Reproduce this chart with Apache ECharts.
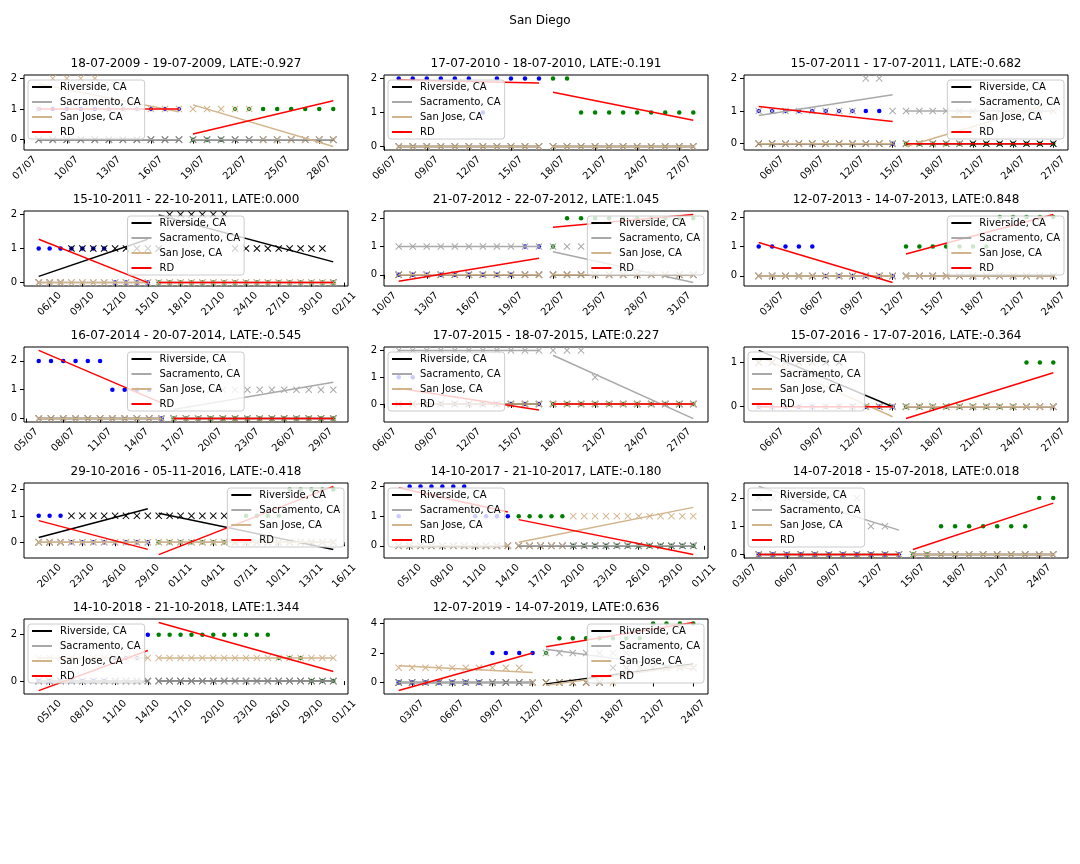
<!DOCTYPE html>
<html><head><meta charset="utf-8">
<script src="https://cdn.jsdelivr.net/npm/echarts@6/dist/echarts.min.js"></script>
<style>html,body{margin:0;padding:0;background:#fff}#c{width:1080px;height:864px}</style>
</head><body><div id="c"></div>
<script>
// ---------------- DATA ----------------
const suptitle = 'San Diego';
const cities = ['Riverside, CA', 'Sacramento, CA', 'San Jose, CA'];
const titles = [
  '18-07-2009 - 19-07-2009, LATE:-0.927',
  '17-07-2010 - 18-07-2010, LATE:-0.191',
  '15-07-2011 - 17-07-2011, LATE:-0.682',
  '15-10-2011 - 22-10-2011, LATE:0.000',
  '21-07-2012 - 22-07-2012, LATE:1.045',
  '12-07-2013 - 14-07-2013, LATE:0.848',
  '16-07-2014 - 20-07-2014, LATE:-0.545',
  '17-07-2015 - 18-07-2015, LATE:0.227',
  '15-07-2016 - 17-07-2016, LATE:-0.364',
  '29-10-2016 - 05-11-2016, LATE:-0.418',
  '14-10-2017 - 21-10-2017, LATE:-0.180',
  '14-07-2018 - 15-07-2018, LATE:0.018',
  '14-10-2018 - 21-10-2018, LATE:1.344',
  '12-07-2019 - 14-07-2019, LATE:0.636'
];
// first day shown in each panel
const startDates = ['2009-07-08','2010-07-07','2011-07-05','2011-10-05','2012-07-11','2013-07-02','2014-07-06',
  '2015-07-07','2016-07-05','2016-10-19','2017-10-04','2018-07-04','2018-10-04','2019-07-02'];
// number of pre-period days (blue) in each panel
const preDays = [11,11,11,11,11,11,11,11,11,11,11,11,11,11];
// San Diego (treated) daily values
const treated = [
  [1,1,1,1,1,1,1,1,1,1,1, 0,0,0,1,1,1,1,1,1,1,1],
  [2,2,2,2,2,2,1,2,2,2,2, 2,2,1,1,1,1,1,1,1,1,1],
  [1,1,1,1,1,1,1,1,1,1,0, 0,0,0,0,0,0,0,0,0,0,0,0],
  [1,1,1,1,1,1,1,0,0,0,0, 0,0,0,0,0,0,0,0,0,0,0,0,0,0,0,0,0],
  [0,0,0,0,0,0,0,0,0,1,1, 1,2,2,2,2,2,2,2,2,2,2],
  [1,1,1,1,1,0,0,0,0,0,0, 1,1,1,1,1,1,1,2,2,2,2,2],
  [2,2,2,2,2,2,1,1,1,1,0, 0,0,0,0,0,0,0,0,0,0,0,0,0,0],
  [1,1,0,0,0,0,0,0,0,0,0, 0,0,0,0,0,0,0,0,0,0,0],
  [0,0,0,0,0,0,0,0,0,0,0, 0,0,0,0,0,0,0,0,0,1,1,1],
  [1,1,1,0,0,0,0,0,0,0,0, 0,0,0,0,0,0,0,0,1,1,1,1,2,2,2,2,2],
  [1,2,2,2,2,2,2,1,1,1,1, 1,1,1,1,1,0,0,0,0,0,0,0,0,0,0,0,0],
  [0,0,0,0,0,0,0,0,0,0,0, 0,0,1,1,1,1,1,1,1,2,2],
  [0,0,0,0,0,0,0,1,1,1,2, 2,2,2,2,2,2,2,2,2,2,2,1,1,1,0,0,0],
  [0,0,0,0,0,0,0,2,2,2,2, 2,3,3,3,3,3,3,3,4,4,4,4]
];
const riverside = [
  [0,0,0,0,0,0,0,0,0,0,0, 0,0,0,0,0,0,0,0,0,0,0],
  [0,0,0,0,0,0,0,0,0,0,0, 0,0,0,0,0,0,0,0,0,0,0],
  [0,0,0,0,0,0,0,0,0,0,0, 0,0,0,0,0,0,0,0,0,0,0,0],
  [0,0,0,1,1,1,1,1,1,1,1, 1,2,2,2,2,2,2,1,1,1,1,1,1,1,1,1,0],
  [0,0,0,0,0,0,0,0,0,0,0, 0,0,0,0,0,0,0,0,0,0,0],
  [0,0,0,0,0,0,0,0,0,0,0, 0,0,0,0,0,0,0,0,0,0,0,0],
  [0,0,0,0,0,0,0,0,0,0,0, 0,0,0,0,0,0,0,0,0,0,0,0,0,0],
  [0,0,0,0,0,0,0,0,0,0,0, 0,0,0,0,0,0,0,0,0,0,0],
  [1,1,1,1,1,1,1,0,0,0,0, 0,0,0,0,0,0,0,0,0,0,0,0],
  [0,0,0,1,1,1,1,1,1,1,1, 1,1,1,1,1,1,1,0,0,0,0,0,0,0,0,0,0],
  [0,0,0,0,0,0,0,0,0,0,0, 0,0,0,0,0,0,0,0,0,0,0,0,0,0,0,0,0],
  [0,0,0,0,0,0,0,0,0,0,0, 0,0,0,0,0,0,0,0,0,0,0],
  [0,0,0,0,0,0,0,0,0,0,0, 0,0,0,0,0,0,0,0,0,0,0,0,0,0,0,0,0],
  [0,0,0,0,0,0,0,0,0,0,0, 0,0,0,0,0,1,1,1,1,1,1,1]
];
const sacramento = [
  [0,0,0,0,0,0,0,0,0,0,0, 0,0,0,0,0,0,0,0,0,0,0],
  [0,0,0,0,0,0,0,0,0,0,0, 0,0,0,0,0,0,0,0,0,0,0],
  [1,1,1,1,1,1,1,1,2,2,1, 1,1,1,1,1,1,1,1,1,1,1,1],
  [0,0,0,0,0,0,0,0,0,0,0, 0,0,0,0,0,0,0,0,0,0,0,0,0,0,0,0,0],
  [1,1,1,1,1,1,1,1,1,1,1, 1,1,1,0,0,0,0,0,0,0,0],
  [0,0,0,0,0,0,0,0,0,0,0, 0,0,0,0,0,0,0,0,0,0,0,0],
  [0,0,0,0,0,0,0,0,0,0,0, 0,0,0,1,1,1,1,1,1,1,1,1,1,1],
  [2,2,2,2,2,2,2,2,2,2,2, 2,2,2,1,0,0,0,0,0,0,0],
  [0,0,0,0,0,0,0,0,0,0,0, 0,0,0,0,0,0,0,0,0,0,0,0],
  [0,0,0,0,0,0,0,0,0,0,0, 0,0,0,0,0,0,0,0,0,0,0,0,0,0,0,0,0],
  [0,0,0,0,0,0,0,0,0,0,0, 0,0,0,0,0,0,0,0,0,0,0,0,0,0,0,0,0],
  [2,2,2,2,2,2,2,2,1,1,0, 0,0,0,0,0,0,0,0,0,0,0],
  [0,0,0,0,0,0,0,0,0,0,0, 0,0,0,0,0,0,0,0,0,0,0,0,0,0,0,0,0],
  [0,0,0,0,0,0,0,0,0,0,0, 2,2,2,2,2,2,2,1,1,1,1,1]
];
const sanJose = [
  [1,2,2,2,2,1,1,1,1,1,1, 1,1,1,1,1,0,0,0,0,0,0],
  [0,0,0,0,0,0,0,0,0,0,0, 0,0,0,0,0,0,0,0,0,0,0],
  [0,0,0,0,0,0,0,0,0,0,0, 0,0,0,0,0,1,1,1,1,1,1,1],
  [0,0,0,0,0,0,0,0,0,0,0, 0,0,0,0,0,0,0,0,0,0,0,0,0,0,0,0,0],
  [0,0,0,0,0,0,0,0,0,0,0, 0,0,0,0,0,0,0,0,0,0,0],
  [0,0,0,0,0,0,0,0,0,0,0, 0,0,0,0,0,0,0,0,0,0,0,0],
  [0,0,0,0,0,0,0,0,0,0,0, 0,0,0,0,0,0,0,0,0,0,0,0,0,0],
  [0,0,0,0,0,0,0,0,0,0,0, 0,0,0,0,0,0,0,0,0,0,0],
  [1,1,1,1,1,0,0,0,0,0,0, 0,0,0,0,0,0,0,0,0,0,0,0],
  [0,0,0,0,0,0,0,0,0,0,0, 0,0,0,0,0,0,0,0,0,0,0,0,0,0,0,0,0],
  [0,0,0,0,0,0,0,0,0,0,0, 0,0,0,0,0,1,1,1,1,1,1,1,1,1,1,1,1],
  [0,0,0,0,0,0,0,0,0,0,0, 0,0,0,0,0,0,0,0,0,0,0],
  [1,1,1,1,1,1,1,1,1,1,1, 1,1,1,1,1,1,1,1,1,1,1,1,1,1,1,1,1],
  [1,1,1,1,1,1,1,1,1,1,0, 0,0,0,0,0,0,1,1,1,1,1,1]
];
const xTickLabels = [
  ['07/07','10/07','13/07','16/07','19/07','22/07','25/07','28/07'],
  ['06/07','09/07','12/07','15/07','18/07','21/07','24/07','27/07'],
  ['06/07','09/07','12/07','15/07','18/07','21/07','24/07','27/07'],
  ['06/10','09/10','12/10','15/10','18/10','21/10','24/10','27/10','30/10','02/11'],
  ['10/07','13/07','16/07','19/07','22/07','25/07','28/07','31/07'],
  ['03/07','06/07','09/07','12/07','15/07','18/07','21/07','24/07'],
  ['05/07','08/07','11/07','14/07','17/07','20/07','23/07','26/07','29/07'],
  ['06/07','09/07','12/07','15/07','18/07','21/07','24/07','27/07'],
  ['06/07','09/07','12/07','15/07','18/07','21/07','24/07','27/07'],
  ['20/10','23/10','26/10','29/10','01/11','04/11','07/11','10/11','13/11','16/11'],
  ['05/10','08/10','11/10','14/10','17/10','20/10','23/10','26/10','29/10','01/11'],
  ['03/07','06/07','09/07','12/07','15/07','18/07','21/07','24/07'],
  ['05/10','08/10','11/10','14/10','17/10','20/10','23/10','26/10','29/10','01/11'],
  ['03/07','06/07','09/07','12/07','15/07','18/07','21/07','24/07']
];
const yTickValues = [[0,1,2],[0,1,2],[0,1,2],[0,1,2],[0,1,2],[0,1,2],[0,1,2],[0,1,2],[0,1],[0,1,2],[0,1,2],[0,1,2],[0,2],[0,2,4]];

// ---------------- LAYOUT / STYLE ----------------
const colLeft = [24, 384, 744], rowTop = [75, 211, 347, 483, 619], GW = 324, GH = 75;
const legendLoc = ['ul','ul','ur','uc','ur','ur','uc','ul','ul','ur','ul','ul','ul','ur'];
const lineColors = ['#000000', '#a9a9a9', '#d2b48c', '#ff0000'];
const FONT = 'DejaVu Sans';
const DAY = 86400000;
const X_PATH = 'path://M1,0 L5,4 L9,0 L10,1 L6,5 L10,9 L9,10 L5,6 L1,10 L0,9 L4,5 L0,1 Z';

function dayNum(s) { const p = s.split('-').map(Number); return Date.UTC(p[0], p[1] - 1, p[2]) / DAY; }
function tickDay(lbl, year) { const p = lbl.split('/').map(Number); return Date.UTC(year, p[1] - 1, p[0]) / DAY; }
function fmt(v) { const d = new Date(Math.round(v) * DAY); const dd = String(d.getUTCDate()).padStart(2, '0'); const mm = String(d.getUTCMonth() + 1).padStart(2, '0'); return dd + '/' + mm; }
function ols(xs, ys) {
  const n = xs.length; let mx = 0, my = 0;
  for (let i = 0; i < n; i++) { mx += xs[i]; my += ys[i]; }
  mx /= n; my /= n;
  let sxy = 0, sxx = 0;
  for (let i = 0; i < n; i++) { sxy += (xs[i] - mx) * (ys[i] - my); sxx += (xs[i] - mx) * (xs[i] - mx); }
  const b = sxx ? sxy / sxx : 0;
  return [[xs[0], my + b * (xs[0] - mx)], [xs[n - 1], my + b * (xs[n - 1] - mx)]];
}

const grids = [], xAxes = [], yAxes = [], series = [], titlesOpt = [], legends = [];
titlesOpt.push({ text: suptitle, left: 540, top: 15, textAlign: 'center', padding: 0,
  textStyle: { fontFamily: FONT, fontSize: 12, fontWeight: 'normal', color: '#000' } });

for (let p = 0; p < titles.length; p++) {
  const r = Math.floor(p / 3), c = p % 3;
  const gl = colLeft[c], gt = rowTop[r];
  grids.push({ left: gl, top: gt, width: GW, height: GH, show: true, borderColor: '#000', borderWidth: 1,
    backgroundColor: 'transparent', containLabel: false, outerBoundsMode: 'none' });
  const s0 = dayNum(startDates[p]);
  const year = Number(startDates[p].slice(0, 4));
  const vals = treated[p], n = vals.length, np = preDays[p];
  const xs = []; for (let i = 0; i < n; i++) xs.push(s0 + i);
  const ctrl = [riverside[p], sacramento[p], sanJose[p]];

  const allY = [];
  const addLine = (pts) => { pts.forEach(q => allY.push(q[1])); return pts; };
  vals.forEach(v => allY.push(v)); ctrl.forEach(a => a.forEach(v => allY.push(v)));

  // treated dots
  series.push({ type: 'scatter', name: 'pre', xAxisIndex: p, yAxisIndex: p, symbol: 'circle', symbolSize: 4.5,
    itemStyle: { color: '#0000ff', opacity: 1 }, data: xs.slice(0, np).map((x, i) => [x, vals[i]]), z: 2 });
  series.push({ type: 'scatter', name: 'post', xAxisIndex: p, yAxisIndex: p, symbol: 'circle', symbolSize: 4.5,
    itemStyle: { color: '#008000', opacity: 1 }, data: xs.slice(np).map((x, i) => [x, vals[np + i]]), z: 2 });
  // control markers
  for (let k = 0; k < 3; k++) {
    series.push({ type: 'scatter', name: cities[k] + ' obs', xAxisIndex: p, yAxisIndex: p, symbol: X_PATH, symbolSize: 7,
      itemStyle: { color: lineColors[k], opacity: 1 }, data: xs.map((x, i) => [x, ctrl[k][i]]), z: 2 });
  }
  // control fit lines
  for (let k = 0; k < 3; k++) {
    const pre = addLine(ols(xs.slice(0, np), ctrl[k].slice(0, np)));
    const post = addLine(ols(xs.slice(np), ctrl[k].slice(np)));
    [pre, post].forEach(seg => series.push({ type: 'line', name: cities[k], xAxisIndex: p, yAxisIndex: p,
      symbol: 'none', color: lineColors[k], lineStyle: { color: lineColors[k], width: 1.5 }, data: seg, z: 3, silent: true }));
  }
  // RD fit lines
  const rpre = addLine(ols(xs.slice(0, np), vals.slice(0, np)));
  const rpost = addLine(ols(xs.slice(np), vals.slice(np)));
  [rpre, rpost].forEach(seg => series.push({ type: 'line', name: 'RD', xAxisIndex: p, yAxisIndex: p,
    symbol: 'none', color: '#ff0000', lineStyle: { color: '#ff0000', width: 1.5 }, data: seg, z: 3, silent: true }));

  const lo = Math.min.apply(null, allY), hi = Math.max.apply(null, allY);
  const ypad = 0.05 * (hi - lo);
  const xpad = 0.05 * (n - 1);
  const xt = xTickLabels[p].map(l => tickDay(l, year));

  xAxes.push({ type: 'value', gridIndex: p, min: s0 - xpad, max: s0 + n - 1 + xpad,
    axisLine: { show: false }, splitLine: { show: false },
    axisTick: { show: true, length: 4, customValues: xt, lineStyle: { color: '#000', width: 1 } },
    axisLabel: { customValues: xt, formatter: fmt, rotate: 45, align: 'center', verticalAlign: 'middle', margin: 18,
      fontFamily: FONT, fontSize: 10, color: '#000' } });
  yAxes.push({ type: 'value', gridIndex: p, min: lo - ypad, max: hi + ypad,
    axisLine: { show: false }, splitLine: { show: false },
    axisTick: { show: true, length: 4, customValues: yTickValues[p], lineStyle: { color: '#000', width: 1 } },
    axisLabel: { customValues: yTickValues[p], margin: 7, fontFamily: FONT, fontSize: 10, color: '#000' } });

  titlesOpt.push({ text: titles[p], left: gl + GW / 2, top: gt - 17, textAlign: 'center', padding: 0,
    textStyle: { fontFamily: FONT, fontSize: 12, fontWeight: 'normal', color: '#000', lineHeight: 12 } });

  const LW = 117;
  const lg = { orient: 'vertical', top: gt + 5, itemWidth: 20, itemHeight: 2, itemGap: 3, icon: 'rect',
    padding: [1, 4, 1, 4], backgroundColor: 'rgba(255,255,255,0.8)', borderColor: '#cccccc', borderWidth: 1, borderRadius: 3,
    selectedMode: false, z: 10,
    textStyle: { fontFamily: FONT, fontSize: 10, color: '#000', lineHeight: 12, padding: [0, 0, 0, 3] },
    data: cities.concat(['RD']).map((nm, k) => ({ name: nm, icon: 'rect', itemStyle: { color: lineColors[k], borderWidth: 0 } })) };
  if (legendLoc[p] === 'ul') lg.left = gl + 4;
  else if (legendLoc[p] === 'ur') lg.right = 1080 - (gl + GW - 4);
  else lg.left = gl + GW / 2 - LW / 2;
  legends.push(lg);
}

const chart = echarts.init(document.getElementById('c'), null, { renderer: 'canvas' });
chart.setOption({
  animation: false,
  backgroundColor: '#ffffff',
  title: titlesOpt,
  grid: grids,
  xAxis: xAxes,
  yAxis: yAxes,
  legend: legends,
  series: series
});
</script>
</body></html>
